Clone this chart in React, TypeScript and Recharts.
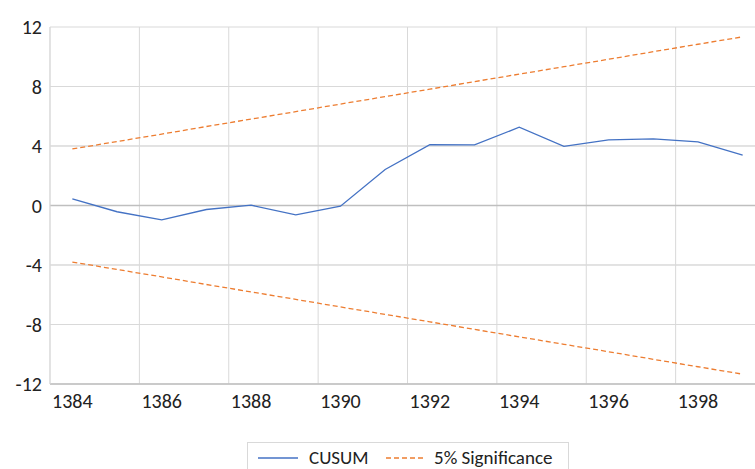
import { LineChart, Line, XAxis, YAxis, CartesianGrid, Legend, ReferenceLine } from "recharts"

const years = [1384, 1385, 1386, 1387, 1388, 1389, 1390, 1391, 1392, 1393, 1394, 1395, 1396, 1397, 1398, 1399]
const cusum = [0.45, -0.42, -0.96, -0.27, 0.02, -0.63, -0.05, 2.42, 4.09, 4.07, 5.26, 3.98, 4.41, 4.48, 4.28, 3.38]
const upper = [3.8, 4.3, 4.8, 5.31, 5.81, 6.31, 6.82, 7.32, 7.82, 8.33, 8.83, 9.33, 9.83, 10.34, 10.84, 11.34]
const lower = [-3.8, -4.3, -4.8, -5.31, -5.81, -6.31, -6.82, -7.32, -7.82, -8.33, -8.83, -9.33, -9.83, -10.34, -10.84, -11.34]

const xTicks = [1384, 1386, 1388, 1390, 1392, 1394, 1396, 1398]
const yTicks = [-12, -8, -4, 0, 4, 8, 12]
const xDomain = [1383.5, 1399.5]
// gridlines sit on category boundaries, every second year
const gridYears = [1383.5, 1385.5, 1387.5, 1389.5, 1391.5, 1393.5, 1395.5, 1397.5, 1399.5]

const data = years.map((year, i) => ({ year, cusum: cusum[i], upper: upper[i], lower: lower[i] }))

const FONT = "Carlito, Calibri, Lato, sans-serif"
const BLUE = "#4472C4"
const ORANGE = "#ED7D31"

function LegendBox() {
  return (
    <div style={{ height: 58, position: "relative" }}>
      <div
        style={{
          position: "absolute",
          left: 247,
          top: 0,
          width: 322,
          height: 34,
          border: "1px solid #d9d9d9",
          boxSizing: "border-box",
        }}
      >
        <svg width={322} height={34} style={{ position: "absolute", left: 0, top: 0 }}>
          <line x1={10} x2={50} y1={15} y2={15} stroke={BLUE} strokeWidth={1.3} />
          <text x={61} y={21} fontFamily={FONT} fontSize={19} fill="#222">CUSUM</text>
          <line x1={138} x2={178} y1={15} y2={15} stroke={ORANGE} strokeWidth={1.3} strokeDasharray="5 3" />
          <text x={186} y={21} fontFamily={FONT} fontSize={19} fill="#222">5% Significance</text>
        </svg>
      </div>
    </div>
  )
}

export default function App() {
  return (
    <div style={{ position: "fixed", left: 0, top: 0, width: 755, height: 469, overflow: "hidden", background: "#fff" }}>
      <LineChart width={780} height={500} data={data} margin={{ top: 27, right: 15, bottom: 0, left: 0 }}>
        <CartesianGrid
          stroke="#d9d9d9"
          horizontalPoints={[]}
          verticalCoordinatesGenerator={({ offset }: any) =>
            gridYears.map((v) => offset.left + ((v - xDomain[0]) / (xDomain[1] - xDomain[0])) * offset.width)
          }
        />
        {[-8, -4, 4, 8].map((v) => (
          <ReferenceLine key={v} y={v} stroke="#d9d9d9" />
        ))}
        <ReferenceLine y={0} stroke="#bfbfbf" strokeWidth={1.3} />
        <XAxis
          dataKey="year"
          type="number"
          domain={xDomain}
          ticks={xTicks}
          tickLine={false}
          axisLine={{ stroke: "#bfbfbf", strokeWidth: 1.3 }}
          height={58}
          tickMargin={4}
          tick={{ fill: "#222", fontSize: 20, fontFamily: FONT }}
        />
        <YAxis
          domain={[-12, 12]}
          ticks={yTicks}
          width={50}
          tickLine={false}
          axisLine={{ stroke: "#d9d9d9" }}
          tickMargin={2}
          tick={{ fill: "#222", fontSize: 20, fontFamily: FONT }}
        />
        <Legend verticalAlign="bottom" align="left" content={() => <LegendBox />} wrapperStyle={{ left: 0, width: 780 }} />
        <Line type="linear" dataKey="cusum" stroke={BLUE} strokeWidth={1.3} dot={false} isAnimationActive={false} />
        <Line type="linear" dataKey="upper" stroke={ORANGE} strokeWidth={1.3} strokeDasharray="5 3" dot={false} isAnimationActive={false} />
        <Line type="linear" dataKey="lower" stroke={ORANGE} strokeWidth={1.3} strokeDasharray="5 3" dot={false} isAnimationActive={false} />
      </LineChart>
    </div>
  )
}
